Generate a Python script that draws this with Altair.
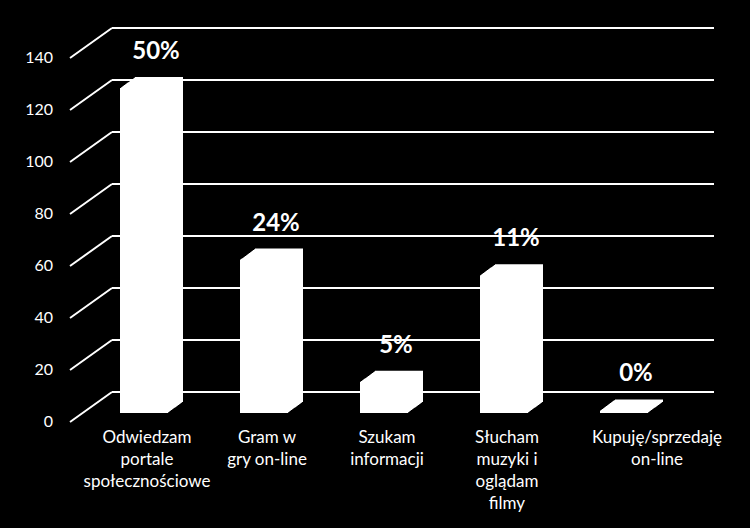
import altair as alt
import pandas as pd

# ---- data -------------------------------------------------------------
categories = [
    "Odwiedzam\nportale\nspołecznościowe",
    "Gram w\ngry on-line",
    "Szukam\ninformacji",
    "Słucham\nmuzyki i\noglądam\nfilmy",
    "Kupuję/sprzedaję\non-line",
]
values = [125, 59, 12, 53, 1]
percent_labels = ["50%", "24%", "5%", "11%", "0%"]
y_ticks = [0, 20, 40, 60, 80, 100, 120, 140]

df = pd.DataFrame({
    "cat": categories,
    "idx": list(range(len(categories))),
    "value": values,
    "pct": percent_labels,
    "zero": [0] * len(categories),
})
ticks = pd.DataFrame({"t": y_ticks})

# ---- scales (back wall plane) ----------------------------------------
yscale = alt.Scale(domain=[0, 140], range=[392, 28], nice=False, zero=False)
xscale = alt.Scale(domain=[0, 4], range=[120, 600], nice=False, zero=False)
FONT = "Lato"
DEPTH = 15  # pixel depth of bars
BAR_W = 48

base_t = alt.Chart(ticks)
Yt = alt.Y("t:Q", scale=yscale, axis=None)

hgrid = base_t.mark_rule(color="white", strokeWidth=2).encode(
    x=alt.value(112), x2=alt.value(714), y=Yt
)
dgrid = base_t.mark_rule(color="white", strokeWidth=2, yOffset=30, y2Offset=0).encode(
    x=alt.value(70), x2=alt.value(112), y=Yt, y2="t:Q"
)
ylabels = base_t.mark_text(
    align="right", baseline="middle", color="white", font=FONT, fontSize=16, yOffset=30
).encode(x=alt.value(53), y=Yt, text="t:Q")

base = alt.Chart(df)
X = alt.X("idx:Q", scale=xscale, axis=None)
Y = alt.Y("value:Q", scale=yscale, axis=None)

bar_layers = []
for d in range(DEPTH + 1):
    off = 21 - d * 11 / DEPTH
    bar_layers.append(
        base.mark_rect(
            color="white", xOffset=d, x2Offset=BAR_W + d, yOffset=off, y2Offset=off
        ).encode(x=X, x2="idx:Q", y=Y, y2="zero:Q")
    )

pct = base.mark_text(
    color="white", font=FONT, fontSize=24, fontWeight="bold",
    align="center", baseline="middle", xOffset=36, yOffset=-15
).encode(x=X, y=Y, text="pct:N")

cat_main = base.transform_filter("datum.idx < 4").mark_text(
    color="white", font=FONT, fontSize=17, align="center", baseline="top",
    lineBreak="\n", lineHeight=22, xOffset=27
).encode(x=X, y=alt.value(430), text="cat:N")
cat_last = base.transform_filter("datum.idx >= 4").mark_text(
    color="white", font=FONT, fontSize=17, align="center", baseline="top",
    lineBreak="\n", lineHeight=22, xOffset=57
).encode(x=X, y=alt.value(430), text="cat:N")

chart = alt.layer(hgrid, dgrid, ylabels, *bar_layers, pct, cat_main, cat_last).properties(
    width=750, height=528, background="black", padding=0,
    autosize=alt.AutoSizeParams(type="none"),
).configure_view(stroke=None)

chart.save("out.html", embed_options={"renderer": "svg", "actions": False})
